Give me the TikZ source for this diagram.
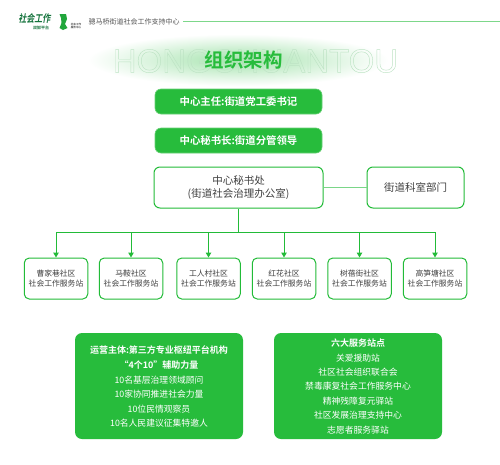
\documentclass[tikz,border=0pt]{standalone}
\usepackage{fontspec}
\setmainfont{Noto Sans CJK SC}
\newfontfamily\hvy{Noto Sans CJK SC Bold}
\newfontfamily\lat{Liberation Sans}
\usetikzlibrary{arrows.meta,shadings}
\definecolor{gfill}{HTML}{27BC3C}
\definecolor{gline}{HTML}{22BB38}
\definecolor{dgreen}{HTML}{14733C}
\definecolor{greytxt}{HTML}{555555}
\newcommand{\fs}[1]{\fontsize{#1}{#1}\selectfont}
\tikzset{
 x=1pt,y=-1pt,
 solid box/.style={fill=gfill,rounded corners=6pt,draw=gfill!70!white,line width=.6pt,inner sep=0pt,minimum height=25pt,minimum width=167pt,text=white,font=\fs{10.4}\hvy},
 outl box/.style={draw=gline,fill=white,line width=1pt,rounded corners=6pt,inner sep=0pt,align=center,text=black!75,font=\fs{10.5},minimum height=41pt},
 station/.style={draw=gline,fill=white,line width=1pt,rounded corners=5pt,inner sep=0pt,minimum width=63.5pt,minimum height=41pt,align=center,text=black!75,font=\fs{7.8}},
 panel/.style={fill=gfill,rounded corners=7pt,inner sep=0pt,minimum width=168pt,minimum height=106pt},
 paneltxt/.style={text=white,font=\fs{8.8},inner sep=0pt},
 paneltitle/.style={text=white,font=\fs{9}\hvy,inner sep=0pt},
 link/.style={draw=gline,line width=1pt},
 arr/.style={link,-{Triangle[length=5pt,width=5.5pt]}},
}
\begin{document}
\begin{tikzpicture}
\useasboundingbox (0,0) rectangle (500,464);
\fill[white] (0,0) rectangle (500,464);
% title glow
\shade[inner color=gfill!42!white,outer color=white] (238,60) ellipse (150 and 26);
% header
\node[inner sep=0pt,text=dgreen,font=\fs{8}\hvy,xslant=.18,yscale=1.3] (logoa) at (35,19) {社会工作};
\node[inner sep=0pt,text=dgreen,font=\fs{4}\hvy] (logob) at (41,28) {双鲜平台};
\fill[gfill!70!dgreen] (59.5,14) -- (66,14) -- (67,19) -- (65,24) -- (67.5,28) -- (63,30) -- (59.5,28) -- (61.5,23) -- (61,18) -- cycle;
\node[inner sep=0pt,text=black!70,font=\fs{2.6}\hvy,align=center] (logoc) at (76,26) {社会工作\\服务中心};
\node[inner sep=0pt,text=greytxt,font=\fs{7}] (hdr) at (134,21.5) {骢马桥街道社会工作支持中心};
\coordinate (hl) at (183,21.5); \coordinate (hr) at (500,21.5);
\draw[gfill!60!white,line width=.7pt] (hl) -- (hr);
\node[inner sep=0pt,font=\fs{33}\lat] (ghost2) at (255.5,61) {\special{pdf:code q 1 Tr 0.45 w 0.74 0.89 0.77 RG}HONGCHUANTOU\special{pdf:code 0 Tr Q}};
\node[inner sep=0pt,text=gfill,font=\fs{19.5}\hvy] (title) at (243.5,60.5) {组织架构};
% top boxes
\node[solid box] (dir) at (238.5,101.5) {中心主任:街道党工委书记};
\node[solid box] (sec) at (238.5,140.5) {中心秘书长:街道分管领导};
% middle boxes
\node[outl box,minimum width=169pt,font=\fs{10.5},align=center] (office) at (238.5,187.5) {中心秘书处\\[2pt](街道社会治理办公室)};
\node[outl box,minimum width=97pt] (dept) at (415.5,187.5) {街道科室部门};
\draw[link,draw=gline!60!white,line width=1.5pt] (office) -- (dept);
% stations
\node[station] (s1) at (56,278.5) {曹家巷社区\\[2pt]社会工作服务站};
\node[station] (s2) at (131,278.5) {马鞍社区\\[2pt]社会工作服务站};
\node[station] (s3) at (208.5,278.5) {工人村社区\\[2pt]社会工作服务站};
\node[station] (s4) at (284,278.5) {红花社区\\[2pt]社会工作服务站};
\node[station] (s5) at (359.5,278.5) {树蓓街社区\\[2pt]社会工作服务站};
\node[station] (s6) at (435,278.5) {高笋塘社区\\[2pt]社会工作服务站};
\coordinate (bus) at (238.5,232);
\draw[link] (office.south) -- (bus);
\foreach \n in {s1,s2,s3,s4,s5,s6}{
 \draw[arr] (bus) -| (\n.north);
}
% panels
\node[panel] (pl) at (159,386) {};
\node[panel] (pr) at (358,386) {};
\node[paneltitle] (l1) at (159,350) {运营主体:第三方专业枢纽平台机构};
\node[paneltitle] (l2) at (159,365.5) {“4个10”辅助力量};
\node[paneltxt] (l3) at (159,380) {10名基层治理领域顾问};
\node[paneltxt] (l4) at (159,394.5) {10家协同推进社会力量};
\node[paneltxt] (l5) at (159,409) {10位民情观察员};
\node[paneltxt] (l6) at (159,423) {10名人民建议征集特邀人};
\node[paneltitle] (r1) at (358,343) {六大服务站点};
\node[paneltxt] (r2) at (358,358) {关爱援助站};
\node[paneltxt] (r3) at (358,372) {社区社会组织联合会};
\node[paneltxt] (r4) at (358,386.5) {禁毒康复社会工作服务中心};
\node[paneltxt] (r5) at (358,401) {精神残障复元驿站};
\node[paneltxt] (r6) at (358,415.5) {社区发展治理支持中心};
\node[paneltxt] (r7) at (358,430) {志愿者服务驿站};
\end{tikzpicture}
\end{document}
